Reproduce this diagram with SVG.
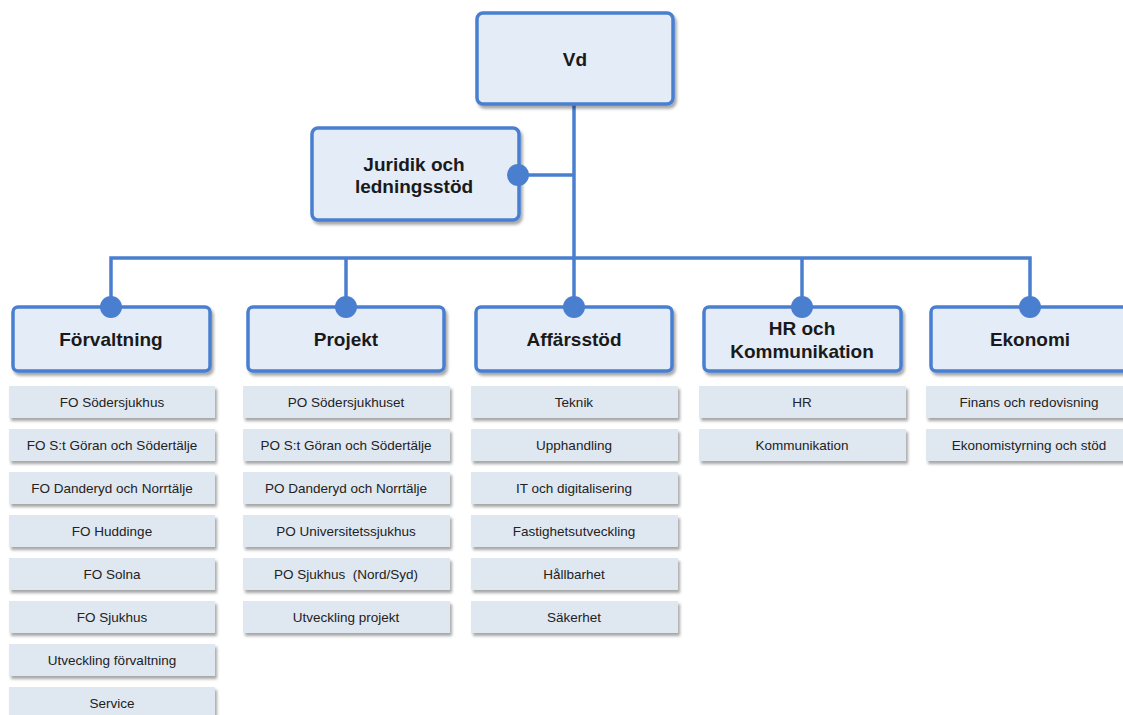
<svg xmlns="http://www.w3.org/2000/svg" width="1123" height="715" viewBox="0 0 1123 715">
<defs>
<filter id="sh" x="-10%" y="-10%" width="125%" height="140%">
<feGaussianBlur in="SourceAlpha" stdDeviation="1.5"/>
<feOffset dx="2" dy="3" result="b"/>
<feComponentTransfer><feFuncA type="linear" slope="0.35"/></feComponentTransfer>
<feMerge><feMergeNode/><feMergeNode in="SourceGraphic"/></feMerge>
</filter>
</defs>
<style>
.main{fill:#e4ecf7;stroke:#4a7fd0;stroke-width:3.5;filter:url(#sh)}
.sub{fill:#dfe7f1;filter:url(#sh)}
.mt{font-family:"Liberation Sans",Arial,sans-serif;font-weight:bold;font-size:19px;fill:#1a1a1a;text-anchor:middle}
.st{font-family:"Liberation Sans",Arial,sans-serif;font-size:13.5px;fill:#222;text-anchor:middle}
.ln{stroke:#4a7fd0;stroke-width:3.5;fill:none}
.dot{fill:#4a7fd0}
</style>
<rect width="1123" height="715" fill="#ffffff"/>
<g id="connectors">
<path class="ln" d="M574 104 V307"/>
<path class="ln" d="M518 175 H574"/>
<path class="ln" d="M111 307 V258 H1030 V307"/>
<path class="ln" d="M346 258 V307"/>
<path class="ln" d="M802 258 V307"/>
</g>
<g id="vd"><rect class="main" x="477" y="13" width="196" height="91" rx="6"/><text class="mt" x="575" y="66">Vd</text></g>
<g id="juridik"><rect class="main" x="312" y="128" width="207" height="92" rx="6"/><text class="mt" x="414" y="171">Juridik och</text><text class="mt" x="414" y="193">ledningsstöd</text></g>
<g id="forvaltning"><rect class="main" x="13" y="307" width="197" height="64" rx="5"/><text class="mt" x="111" y="346">Förvaltning</text></g>
<g id="projekt"><rect class="main" x="248" y="307" width="196" height="64" rx="5"/><text class="mt" x="346" y="346">Projekt</text></g>
<g id="affarsstod"><rect class="main" x="476" y="307" width="196" height="64" rx="5"/><text class="mt" x="574" y="346">Affärsstöd</text></g>
<g id="hr"><rect class="main" x="704" y="307" width="197" height="64" rx="5"/><text class="mt" x="802" y="335">HR och</text><text class="mt" x="802" y="358">Kommunikation</text></g>
<g id="ekonomi"><rect class="main" x="931" y="307" width="200" height="64" rx="5"/><text class="mt" x="1030" y="346">Ekonomi</text></g>
<g id="dots">
<circle class="dot" cx="518" cy="175" r="11"/>
<circle class="dot" cx="111" cy="307" r="11"/>
<circle class="dot" cx="346" cy="307" r="11"/>
<circle class="dot" cx="574" cy="307" r="11"/>
<circle class="dot" cx="802" cy="307" r="11"/>
<circle class="dot" cx="1030" cy="307" r="11"/>
</g>
<g id="forvaltning-subs">
<g id="f1"><rect class="sub" x="9" y="386" width="206" height="32"/><text class="st" x="112" y="407">FO Södersjukhus</text></g>
<g id="f2"><rect class="sub" x="9" y="429" width="206" height="32"/><text class="st" x="112" y="450">FO S:t Göran och Södertälje</text></g>
<g id="f3"><rect class="sub" x="9" y="472" width="206" height="32"/><text class="st" x="112" y="493">FO Danderyd och Norrtälje</text></g>
<g id="f4"><rect class="sub" x="9" y="515" width="206" height="32"/><text class="st" x="112" y="536">FO Huddinge</text></g>
<g id="f5"><rect class="sub" x="9" y="558" width="206" height="32"/><text class="st" x="112" y="579">FO Solna</text></g>
<g id="f6"><rect class="sub" x="9" y="601" width="206" height="32"/><text class="st" x="112" y="622">FO Sjukhus</text></g>
<g id="f7"><rect class="sub" x="9" y="644" width="206" height="32"/><text class="st" x="112" y="665">Utveckling förvaltning</text></g>
<g id="f8"><rect class="sub" x="9" y="687" width="206" height="32"/><text class="st" x="112" y="708">Service</text></g>
</g>
<g id="projekt-subs">
<g id="p1"><rect class="sub" x="243" y="386" width="207" height="32"/><text class="st" x="346" y="407">PO Södersjukhuset</text></g>
<g id="p2"><rect class="sub" x="243" y="429" width="207" height="32"/><text class="st" x="346" y="450">PO S:t Göran och Södertälje</text></g>
<g id="p3"><rect class="sub" x="243" y="472" width="207" height="32"/><text class="st" x="346" y="493">PO Danderyd och Norrtälje</text></g>
<g id="p4"><rect class="sub" x="243" y="515" width="207" height="32"/><text class="st" x="346" y="536">PO Universitetssjukhus</text></g>
<g id="p5"><rect class="sub" x="243" y="558" width="207" height="32"/><text class="st" x="346" y="579" xml:space="preserve">PO Sjukhus  (Nord/Syd)</text></g>
<g id="p6"><rect class="sub" x="243" y="601" width="207" height="32"/><text class="st" x="346" y="622">Utveckling projekt</text></g>
</g>
<g id="affarsstod-subs">
<g id="a1"><rect class="sub" x="471" y="386" width="207" height="32"/><text class="st" x="574" y="407">Teknik</text></g>
<g id="a2"><rect class="sub" x="471" y="429" width="207" height="32"/><text class="st" x="574" y="450">Upphandling</text></g>
<g id="a3"><rect class="sub" x="471" y="472" width="207" height="32"/><text class="st" x="574" y="493">IT och digitalisering</text></g>
<g id="a4"><rect class="sub" x="471" y="515" width="207" height="32"/><text class="st" x="574" y="536">Fastighetsutveckling</text></g>
<g id="a5"><rect class="sub" x="471" y="558" width="207" height="32"/><text class="st" x="574" y="579">Hållbarhet</text></g>
<g id="a6"><rect class="sub" x="471" y="601" width="207" height="32"/><text class="st" x="574" y="622">Säkerhet</text></g>
</g>
<g id="hr-subs">
<g id="h1"><rect class="sub" x="699" y="386" width="207" height="32"/><text class="st" x="802" y="407">HR</text></g>
<g id="h2"><rect class="sub" x="699" y="429" width="207" height="32"/><text class="st" x="802" y="450">Kommunikation</text></g>
</g>
<g id="ekonomi-subs">
<g id="e1"><rect class="sub" x="926" y="386" width="207" height="32"/><text class="st" x="1029" y="407">Finans och redovisning</text></g>
<g id="e2"><rect class="sub" x="926" y="429" width="207" height="32"/><text class="st" x="1029" y="450">Ekonomistyrning och stöd</text></g>
</g>
</svg>
